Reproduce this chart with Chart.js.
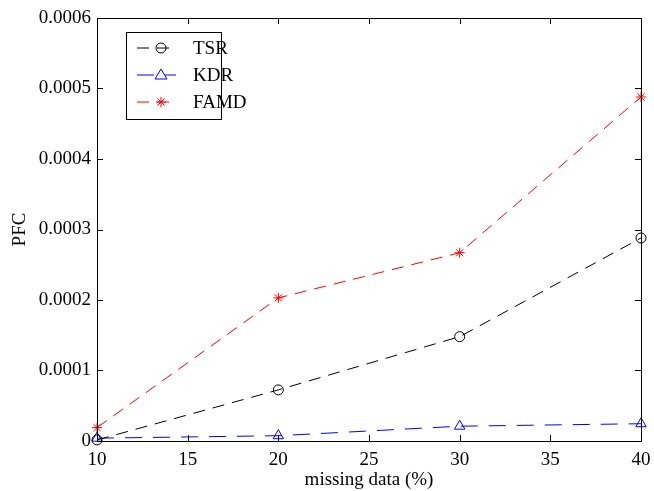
<!DOCTYPE html>
<html>
<head>
<meta charset="utf-8">
<script src="https://cdn.jsdelivr.net/npm/chart.js@4/dist/chart.umd.min.js"></script>
<style>
  html, body { margin: 0; padding: 0; background: #fff; }
  #wrap { width: 654px; height: 491px; }
</style>
</head>
<body>
<div id="wrap"><canvas id="pfcChart" width="654" height="491"></canvas></div>
<script>
const missingData = [10, 20, 30, 40];
const tsrValues = [0.0000015, 0.0000725, 0.000148, 0.000288];
const kdrValues = [0.000004, 0.0000075, 0.000021, 0.0000245];
const famdValues = [0.000019, 0.000203, 0.000267, 0.000488];
const yTicks = [0, 0.0001, 0.0002, 0.0003, 0.0004, 0.0005, 0.0006];
const xTicks = [10, 15, 20, 25, 30, 35, 40];

const FONT = "'Liberation Serif', 'Times New Roman', serif";

function toPoints(values) {
    return missingData.map((x, i) => ({ x: x, y: values[i] }));
}

// ticks pointing inward on all four sides, like a boxed axes
const boxTicks = {
    id: "boxTicks",
    afterDraw(chart) {
        const ctx = chart.ctx;
        const area = chart.chartArea;
        const xs = chart.scales.x;
        const ys = chart.scales.y;
        const len = 6;
        ctx.save();
        ctx.strokeStyle = "#000";
        ctx.lineWidth = 1;
        ctx.beginPath();
        ctx.rect(Math.round(area.left) + 0.5, Math.round(area.top) + 0.5,
            Math.round(area.right - area.left), Math.round(area.bottom - area.top));
        xTicks.forEach(v => {
            const px = Math.round(xs.getPixelForValue(v)) + 0.5;
            ctx.moveTo(px, area.bottom);
            ctx.lineTo(px, area.bottom - len);
            ctx.moveTo(px, area.top);
            ctx.lineTo(px, area.top + len);
        });
        yTicks.forEach(v => {
            const py = Math.round(ys.getPixelForValue(v)) + 0.5;
            ctx.moveTo(area.left, py);
            ctx.lineTo(area.left + len, py);
            ctx.moveTo(area.right, py);
            ctx.lineTo(area.right - len, py);
        });
        ctx.stroke();
        ctx.restore();
    }
};

function drawMarker(ctx, style, x, y, color) {
    ctx.save();
    ctx.setLineDash([]);
    ctx.strokeStyle = color;
    ctx.lineWidth = 1;
    ctx.beginPath();
    if (style === "circle") {
        ctx.arc(x, y, 5, 0, Math.PI * 2);
    } else if (style === "triangle") {
        ctx.moveTo(x, y - 6);
        ctx.lineTo(x + 6, y + 4);
        ctx.lineTo(x - 6, y + 4);
        ctx.closePath();
    } else {
        for (let a = 0; a < 4; a++) {
            const ang = a * Math.PI / 4;
            ctx.moveTo(x - 5 * Math.cos(ang), y - 5 * Math.sin(ang));
            ctx.lineTo(x + 5 * Math.cos(ang), y + 5 * Math.sin(ang));
        }
    }
    ctx.stroke();
    ctx.restore();
}

// legend box inside the top-left of the plot
const insideLegend = {
    id: "insideLegend",
    afterDraw(chart) {
        const ctx = chart.ctx;
        const left = 126.5, top = 32.5, w = 95, h = 87;
        ctx.save();
        ctx.fillStyle = "#fff";
        ctx.fillRect(left, top, w, h);
        ctx.strokeStyle = "#000";
        ctx.lineWidth = 1;
        ctx.strokeRect(left, top, w, h);
        const rows = [48, 75, 102];
        chart.data.datasets.forEach((ds, i) => {
            const y = rows[i];
            ctx.strokeStyle = ds.borderColor;
            ctx.setLineDash(ds.borderDash);
            ctx.beginPath();
            ctx.moveTo(137, y);
            ctx.lineTo(176, y);
            ctx.stroke();
            drawMarker(ctx, ds.pointStyle, 161, y, ds.borderColor);
            ctx.setLineDash([]);
            ctx.fillStyle = "#000";
            ctx.font = "19px " + FONT;
            ctx.textBaseline = "middle";
            ctx.fillText(ds.label, 193, y + 1);
        });
        ctx.restore();
    }
};

new Chart(document.getElementById("pfcChart"), {
    type: "line",
    data: {
        datasets: [
            {
                label: "TSR",
                data: toPoints(tsrValues),
                borderColor: "#000000",
                borderWidth: 1,
                borderDash: [12, 8],
                pointStyle: "circle",
                pointRadius: 5,
                pointBorderWidth: 1,
                pointBackgroundColor: "rgba(0,0,0,0)",
                pointBorderColor: "#000000",
                fill: false,
                tension: 0
            },
            {
                label: "KDR",
                data: toPoints(kdrValues),
                borderColor: "#0000ff",
                borderWidth: 1,
                borderDash: [17, 11],
                pointStyle: "triangle",
                pointRadius: 6,
                pointBorderWidth: 1,
                pointBackgroundColor: "rgba(0,0,0,0)",
                pointBorderColor: "#0000ff",
                fill: false,
                tension: 0
            },
            {
                label: "FAMD",
                data: toPoints(famdValues),
                borderColor: "#ff0000",
                borderWidth: 1,
                borderDash: [12, 8],
                pointStyle: "star",
                pointRadius: 5,
                pointBorderWidth: 1,
                pointBackgroundColor: "rgba(0,0,0,0)",
                pointBorderColor: "#ff0000",
                fill: false,
                tension: 0
            }
        ]
    },
    options: {
        responsive: false,
        animation: false,
        clip: false,
        layout: { padding: { top: 18, right: 13, left: 0, bottom: 0 } },
        plugins: {
            legend: { display: false },
            tooltip: { enabled: false }
        },
        scales: {
            x: {
                type: "linear",
                min: 10,
                max: 40,
                afterFit: (scale) => {
                    scale.height = 50;
                    scale.paddingLeft = 0;
                    scale.paddingRight = 0;
                },
                afterBuildTicks: (scale) => { scale.ticks = xTicks.map(v => ({ value: v })); },
                ticks: {
                    color: "#000",
                    font: { family: FONT, size: 19 },
                    padding: 8,
                    maxRotation: 0
                },
                grid: { drawOnChartArea: false, drawTicks: false },
                border: { display: false },
                title: {
                    display: true,
                    text: "missing data (%)",
                    color: "#000",
                    font: { family: FONT, size: 19 },
                    padding: { top: 0, bottom: 0 }
                }
            },
            y: {
                type: "linear",
                min: 0,
                max: 0.0006,
                afterFit: (scale) => {
                    scale.width = 97;
                    scale.paddingTop = 0;
                    scale.paddingBottom = 0;
                },
                afterBuildTicks: (scale) => { scale.ticks = yTicks.map(v => ({ value: v })); },
                ticks: {
                    color: "#000",
                    font: { family: FONT, size: 19 },
                    padding: 6,
                    callback: (v) => v === 0 ? "0" : v.toFixed(4)
                },
                grid: { drawOnChartArea: false, drawTicks: false },
                border: { display: false },
                title: {
                    display: true,
                    text: "PFC",
                    color: "#000",
                    font: { family: FONT, size: 19 },
                    padding: { top: 9, bottom: 0 }
                }
            }
        }
    },
    plugins: [boxTicks, insideLegend]
});
</script>
</body>
</html>
